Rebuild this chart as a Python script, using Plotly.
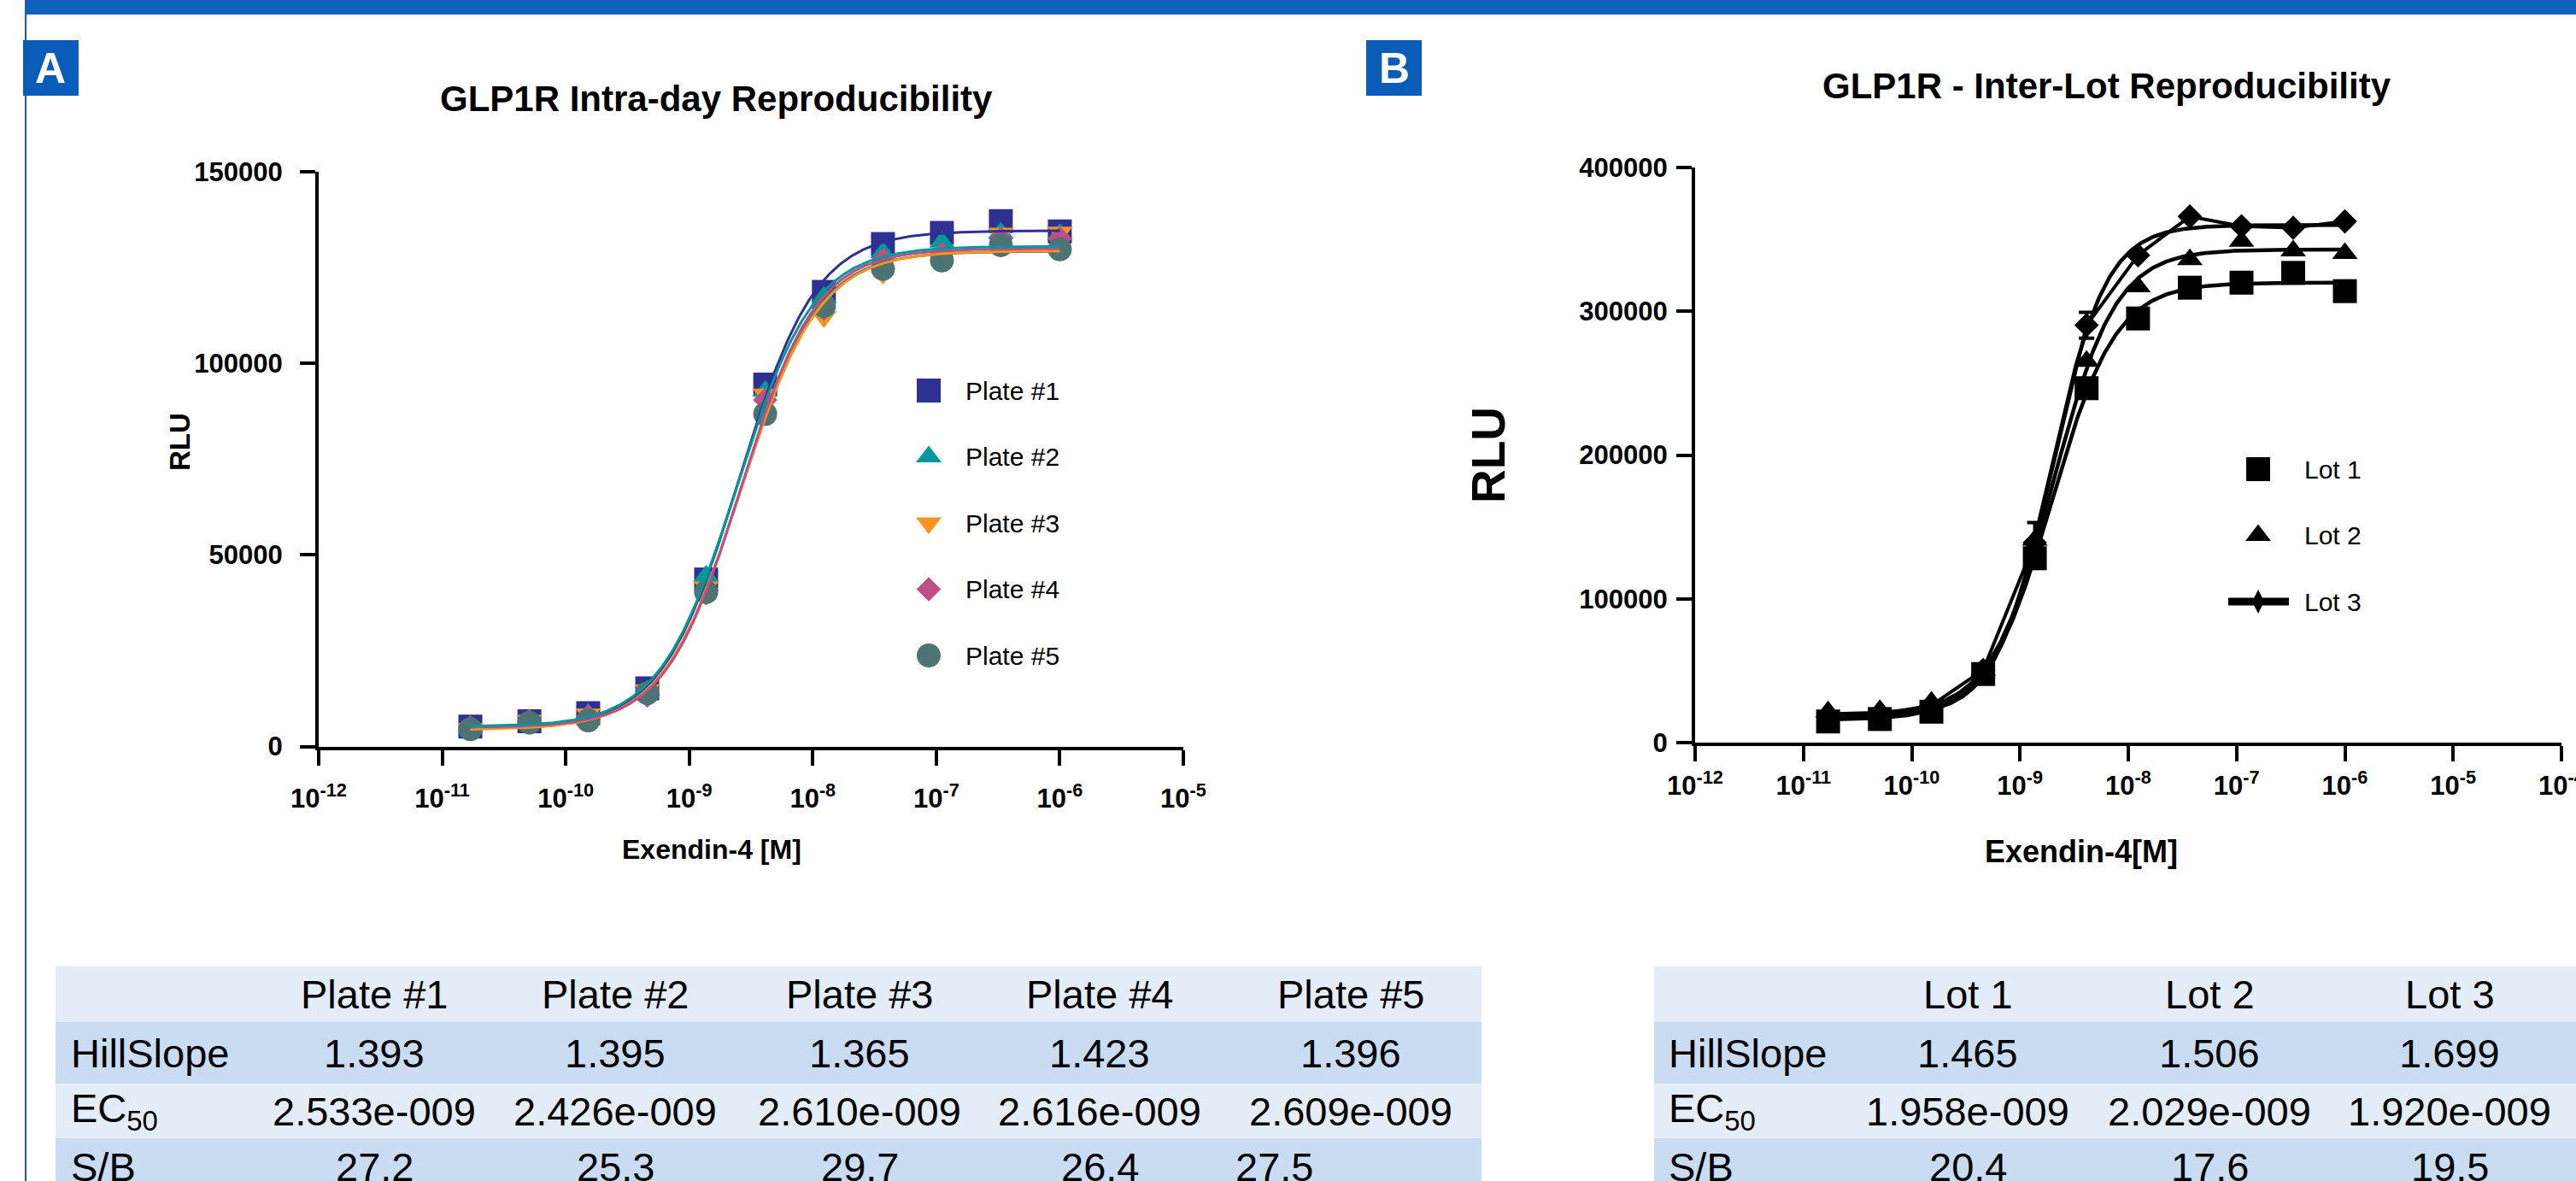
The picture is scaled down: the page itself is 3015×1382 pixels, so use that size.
import numpy as np
import plotly.graph_objects as go

W, H = 3015, 1382
FONT = "Liberation Sans, Arial, Helvetica, sans-serif"

# ---------------- data ----------------
conc = [1.69e-11, 5.08e-11, 1.52e-10, 4.57e-10, 1.37e-9, 4.12e-9,
        1.23e-8, 3.70e-8, 1.11e-7, 3.33e-7, 1.0e-6]

plate_names = ["Plate #1", "Plate #2", "Plate #3", "Plate #4", "Plate #5"]
plate1 = [5200, 6600, 8700, 15200, 43600, 94500, 118700, 131200, 134100, 137200, 134500]
plate2 = [5000, 6500, 8400, 14600, 44500, 92800, 117300, 129000, 131700, 134100, 133800]
plate3 = [4700, 6800, 8500, 14800, 41700, 92000, 112200, 123500, 128000, 134000, 134300]
plate4 = [5000, 6700, 7800, 13300, 40000, 90500, 114400, 127000, 128600, 132600, 132600]
plate5 = [4500, 6200, 6800, 13900, 40300, 86800, 115000, 124700, 126900, 130900, 129800]
plate_values = [plate1, plate2, plate3, plate4, plate5]
plate_top = [134700, 130600, 129400, 130000, 129300]
plate_bottom = [4950, 5160, 4360, 4920, 4700]
plate_hill = [1.393, 1.395, 1.365, 1.423, 1.396]
plate_ec50 = [2.533e-9, 2.426e-9, 2.610e-9, 2.616e-9, 2.609e-9]
plate_sb = [27.2, 25.3, 29.7, 26.4, 27.5]

lot_names = ["Lot 1", "Lot 2", "Lot 3"]
lot1 = [14700, 16400, 21500, 47700, 128200, 246500, 295000, 316400, 319900, 326700, 314000]
lot2 = [21500, 22500, 28300, 50500, 140800, 265300, 317100, 335900, 348800, 342000, 340300]
lot3 = [18000, 19800, 25900, 50500, 139100, 290300, 339000, 365900, 359100, 358100, 362500]
lot3_err = [0, 0, 0, 0, 14000, 9000, 0, 0, 0, 0, 0]
lot_values = [lot1, lot2, lot3]
lot_top = [320000, 343000, 360000]
lot_bottom = [15700, 19500, 18500]
lot_hill = [1.465, 1.506, 1.699]
lot_ec50 = [1.958e-9, 2.029e-9, 1.920e-9]
lot_sb = [20.4, 17.6, 19.5]

x_tick_vals_A = [1e-12, 1e-11, 1e-10, 1e-9, 1e-8, 1e-7, 1e-6, 1e-5]
x_tick_text_A = ["10<sup>-12</sup>", "10<sup>-11</sup>", "10<sup>-10</sup>", "10<sup>-9</sup>",
                 "10<sup>-8</sup>", "10<sup>-7</sup>", "10<sup>-6</sup>", "10<sup>-5</sup>"]
x_tick_vals_B = x_tick_vals_A + [1e-4]
x_tick_text_B = x_tick_text_A + ["10<sup>-4</sup>"]
y_ticks_A = [0, 50000, 100000, 150000]
y_ticks_B = [0, 100000, 200000, 300000, 400000]

row_labels = ["HillSlope", "EC<sub>50</sub>", "S/B"]

# ---------------- styles ----------------
plate_colors = ["#2E3192", "#00989A", "#F7931E", "#BD4F86", "#4D7373"]
plate_symbols = ["square", "triangle-up", "triangle-down", "diamond", "circle"]
plate_sizes = [28, 26, 26, 22, 28]
lot_symbols = ["square", "triangle-up", "diamond"]
lot_sizes = [28, 26, 22]
BLUE = "#0E60BA"


def fx(p):
    return p / W


def fy(p):
    return 1 - p / H


def fourpl(x, bottom, top, ec50, hill):
    return bottom + (top - bottom) / (1 + (ec50 / x) ** hill)


def ec_text(v):
    m, e = "{:.3e}".format(v).split("e")
    return "%se-%03d" % (m, abs(int(e)))


fig = go.Figure()
xs = np.logspace(np.log10(min(conc)), np.log10(max(conc)), 400)

# ---------------- panel A ----------------
for name, vals, col, sym, sz in zip(plate_names, plate_values, plate_colors, plate_symbols, plate_sizes):
    fig.add_trace(go.Scatter(x=conc, y=vals, mode="markers", name=name,
                             marker=dict(symbol=sym, size=sz, color=col, line=dict(width=0)),
                             xaxis="x", yaxis="y", showlegend=False))
for i in [0, 4, 2, 3, 1]:
    fig.add_trace(go.Scatter(x=xs, y=fourpl(xs, plate_bottom[i], plate_top[i], plate_ec50[i], plate_hill[i]),
                             mode="lines", line=dict(color=plate_colors[i], width=3),
                             xaxis="x", yaxis="y", showlegend=False, hoverinfo="skip"))

# ---------------- panel B ----------------
for i, (name, vals, sym, sz) in enumerate(zip(lot_names, lot_values, lot_symbols, lot_sizes)):
    kw = {}
    if i == 2:
        kw["error_y"] = dict(type="data", array=lot3_err, color="black", thickness=4, width=9)
    fig.add_trace(go.Scatter(x=conc, y=vals, mode="lines+markers" if i == 2 else "markers", name=name,
                             marker=dict(symbol=sym, size=sz, color="black", line=dict(width=0)),
                             line=dict(color="black", width=4),
                             xaxis="x2", yaxis="y2", showlegend=False, **kw))
for i in range(3):
    fig.add_trace(go.Scatter(x=xs, y=fourpl(xs, lot_bottom[i], lot_top[i], lot_ec50[i], lot_hill[i]),
                             mode="lines", line=dict(color="black", width=4.5),
                             xaxis="x2", yaxis="y2", showlegend=False, hoverinfo="skip"))

# ---------------- legends (overlay axes, one row per series) ----------------
legA = dict(x0=1087, y0=457, dy=77.5, tx=41)
legB = dict(x0=2643, y0=549, dy=77.5, tx=52)
for i, (name, col, sym, sz) in enumerate(zip(plate_names, plate_colors, plate_symbols, plate_sizes)):
    fig.add_trace(go.Scatter(x=[0], y=[i], mode="markers",
                             marker=dict(symbol=sym, size=sz, color=col, line=dict(width=0)),
                             xaxis="x3", yaxis="y3", showlegend=False, hoverinfo="skip"))
    fig.add_annotation(x=legA["tx"], y=i, xref="x3", yref="y3", text=name, showarrow=False,
                       xanchor="left", yanchor="middle", font=dict(family=FONT, size=30, color="black"))
for i, (name, sym) in enumerate(zip(lot_names, ["square", "triangle-up", "diamond-tall"])):
    if i == 2:
        fig.add_trace(go.Scatter(x=[-35, 36], y=[i, i], mode="lines", line=dict(color="black", width=9),
                                 xaxis="x4", yaxis="y4", showlegend=False, hoverinfo="skip"))
    fig.add_trace(go.Scatter(x=[0], y=[i], mode="markers",
                             marker=dict(symbol=sym, size=[28, 26, 20][i], color="black", line=dict(width=0)),
                             xaxis="x4", yaxis="y4", showlegend=False, hoverinfo="skip"))
    fig.add_annotation(x=legB["tx"], y=i, xref="x4", yref="y4", text=name, showarrow=False,
                       xanchor="left", yanchor="middle", font=dict(family=FONT, size=30, color="black"))

# ---------------- axes ----------------
tickfont = dict(family=FONT, size=31, color="black", weight="bold")
common = dict(showline=True, linecolor="black", linewidth=4, ticks="outside", ticklen=18,
              tickwidth=4, tickcolor="black", showgrid=False, zeroline=False, tickfont=tickfont,
              automargin=False)

fig.update_layout(
    xaxis=dict(type="log", range=[-12, -5], domain=[fx(373), fx(1385)], anchor="y",
               tickvals=x_tick_vals_A, ticktext=x_tick_text_A, ticklabelstandoff=12, **common),
    yaxis=dict(range=[0, 150000], domain=[fy(873.5), fy(201.3)], anchor="x",
               tickvals=y_ticks_A, tickformat="d", ticklabelstandoff=14, **common),
    xaxis2=dict(type="log", range=[-12, -4], domain=[fx(1984), fx(2998)], anchor="y2",
                tickvals=x_tick_vals_B, ticktext=x_tick_text_B, ticklabelstandoff=2,
                ticklabeloverflow="allow", **common),
    yaxis2=dict(range=[0, 400000], domain=[fy(869), fy(196)], anchor="x2",
                tickvals=y_ticks_B, tickformat="d", ticklabelstandoff=4, **common),
    xaxis3=dict(visible=False, range=[-100, 200], domain=[fx(legA["x0"] - 100), fx(legA["x0"] + 200)],
                anchor="y3", fixedrange=True, automargin=False),
    yaxis3=dict(visible=False, range=[(H - legA["y0"]) / legA["dy"], -legA["y0"] / legA["dy"]],
                domain=[0, 1], anchor="x3", fixedrange=True, automargin=False),
    xaxis4=dict(visible=False, range=[-100, 200], domain=[fx(legB["x0"] - 100), fx(legB["x0"] + 200)],
                anchor="y4", fixedrange=True, automargin=False),
    yaxis4=dict(visible=False, range=[(H - legB["y0"]) / legB["dy"], -legB["y0"] / legB["dy"]],
                domain=[0, 1], anchor="x4", fixedrange=True, automargin=False),
    width=W, height=H, margin=dict(l=0, r=0, t=0, b=0, pad=0, autoexpand=False),
    paper_bgcolor="white", plot_bgcolor="rgba(0,0,0,0)", showlegend=False,
    font=dict(family=FONT, color="black"),
)

shapes = []
annotations = []

# header bar, side rule, panel letters
shapes.append(dict(type="rect", xref="paper", yref="paper", x0=fx(29), x1=1, y0=fy(17), y1=1,
                   fillcolor=BLUE, line=dict(width=0), layer="below"))
shapes.append(dict(type="line", xref="paper", yref="paper", x0=fx(30), x1=fx(30), y0=0, y1=1,
                   line=dict(color="#1B5EB5", width=2)))
for letter, (x0, x1) in zip(["A", "B"], [(27, 92), (1599, 1664)]):
    shapes.append(dict(type="rect", xref="paper", yref="paper", x0=fx(x0), x1=fx(x1), y0=fy(112), y1=fy(47),
                       fillcolor="#0B5CB8", line=dict(width=0)))
    annotations.append(dict(x=fx((x0 + x1) / 2), y=fy(80), xref="paper", yref="paper", text="<b>%s</b>" % letter,
                            showarrow=False, xanchor="center", yanchor="middle",
                            font=dict(family=FONT, size=50, color="white")))

# titles
annotations.append(dict(x=fx(838), y=fy(115), xref="paper", yref="paper",
                        text="<b>GLP1R Intra-day Reproducibility</b>", showarrow=False,
                        xanchor="center", yanchor="middle", font=dict(family=FONT, size=42, color="black")))
annotations.append(dict(x=fx(2466), y=fy(100), xref="paper", yref="paper",
                        text="<b>GLP1R - Inter-Lot Reproducibility</b>", showarrow=False,
                        xanchor="center", yanchor="middle", font=dict(family=FONT, size=42, color="black")))
# axis titles
annotations.append(dict(x=fx(211), y=fy(517), xref="paper", yref="paper", text="<b>RLU</b>", textangle=-90,
                        showarrow=False, xanchor="center", yanchor="middle",
                        font=dict(family=FONT, size=33, color="black")))
annotations.append(dict(x=fx(1742), y=fy(532), xref="paper", yref="paper", text="<b>RLU</b>", textangle=-90,
                        showarrow=False, xanchor="center", yanchor="middle",
                        font=dict(family=FONT, size=55, color="black")))
annotations.append(dict(x=fx(833), y=fy(994), xref="paper", yref="paper", text="<b>Exendin-4 [M]</b>",
                        showarrow=False, xanchor="center", yanchor="middle",
                        font=dict(family=FONT, size=32, color="black")))
annotations.append(dict(x=fx(2436), y=fy(996), xref="paper", yref="paper", text="<b>Exendin-4[M]</b>",
                        showarrow=False, xanchor="center", yanchor="middle",
                        font=dict(family=FONT, size=36, color="black")))

# ---------------- tables ----------------
LIGHT, DARK = "#E4EDF7", "#C9DCF1"
row_bands = [(1131, 1196), (1196, 1268), (1268, 1332), (1332, 1400)]
row_mid = [1163, 1232, 1300, 1365]
row_fill = [LIGHT, DARK, LIGHT, DARK]


def draw_table(x_left, x_right, label_x, col_x, sb_x, names, hill, ec50, sb):
    for (y0, y1), fc in zip(row_bands, row_fill):
        shapes.append(dict(type="rect", xref="paper", yref="paper", x0=fx(x_left), x1=fx(x_right),
                           y0=fy(y1), y1=fy(y0), fillcolor=fc, line=dict(width=0), layer="below"))
    tf = dict(family=FONT, size=47, color="black")
    for r, lab in enumerate(row_labels):
        annotations.append(dict(x=fx(label_x), y=fy(row_mid[r + 1]), xref="paper", yref="paper", text=lab,
                                showarrow=False, xanchor="left", yanchor="middle", font=tf))
    for c, name in enumerate(names):
        cells = [name, "%.3f" % hill[c], ec_text(ec50[c]), "%.1f" % sb[c]]
        for r, txt in enumerate(cells):
            xx = sb_x[c] if r == 3 else col_x[c]
            annotations.append(dict(x=fx(xx), y=fy(row_mid[r]), xref="paper", yref="paper", text=txt,
                                    showarrow=False, xanchor="center", yanchor="middle", font=tf))


draw_table(65, 1734, 81, [438, 720, 1006, 1287, 1581], [438, 720, 1006, 1287, 1491],
           plate_names, plate_hill, plate_ec50, plate_sb)
draw_table(1936, 3015, 1951, [2303, 2586, 2867], [2303, 2586, 2867],
           lot_names, lot_hill, lot_ec50, lot_sb)

fig.update_layout(shapes=shapes, annotations=list(fig.layout.annotations) + annotations)

fig.write_html("out.html",
               config={"displayModeBar": False},
               post_script="document.body.style.margin='0';document.body.style.padding='0';"
                           "document.body.style.overflow='hidden';")
